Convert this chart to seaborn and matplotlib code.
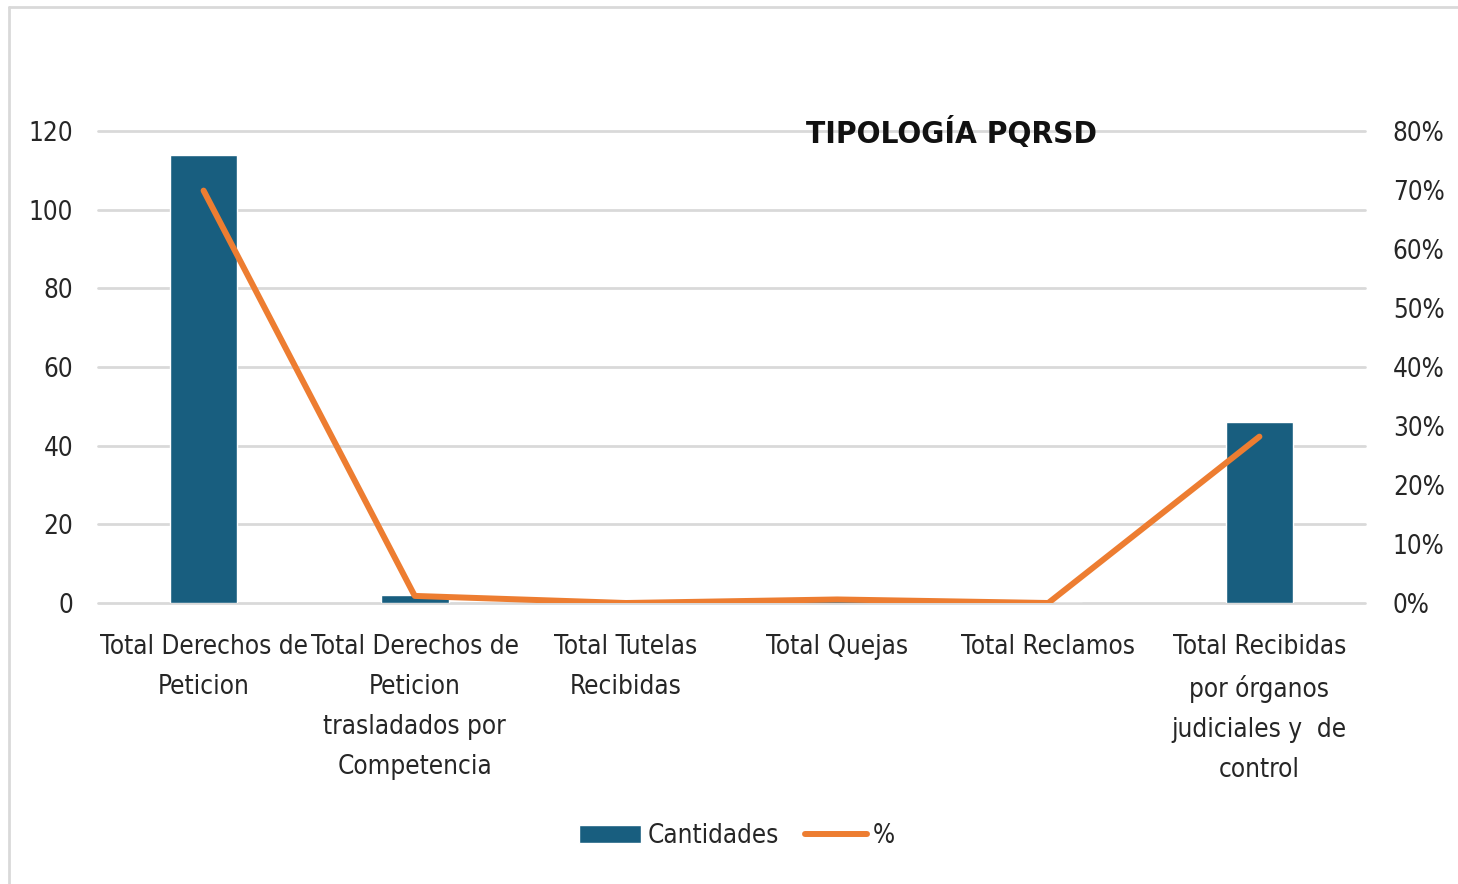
import matplotlib
matplotlib.use("Agg")
import matplotlib.pyplot as plt
import matplotlib.font_manager as fm
from matplotlib.ticker import FuncFormatter
import seaborn as sns
import pandas as pd

categorias = [
    "Total Derechos de\nPeticion",
    "Total Derechos de\nPeticion\ntrasladados por\nCompetencia",
    "Total Tutelas\nRecibidas",
    "Total Quejas",
    "Total Reclamos",
    "Total Recibidas\npor órganos\njudiciales y  de\ncontrol",
]
cantidades = [114, 2, 0, 1, 0, 46]
porcentajes = [0.699, 0.012, 0.0, 0.006, 0.0, 0.282]

azul = "#185E7F"
naranja = "#ED7D31"

sns.set_style("white")
nombres = {f.name for f in fm.fontManager.ttflist}
fuente = "Liberation Sans Narrow" if "Liberation Sans Narrow" in nombres else "DejaVu Sans"
plt.rcParams["font.family"] = [fuente, "DejaVu Sans"]
plt.rcParams["font.stretch"] = "condensed"

df = pd.DataFrame({"cat": categorias, "cant": cantidades, "pct": porcentajes})

fig = plt.figure(figsize=(14.58, 8.84), dpi=100)
ax = fig.add_axes([98 / 1458, 1 - 603 / 884, (1365 - 98) / 1458, (603 - 131) / 884])

sns.barplot(data=df, x="cat", y="cant", color=azul, width=0.32, saturation=1,
            ax=ax, label="Cantidades", zorder=2, legend=False)
ax2 = ax.twinx()
sns.lineplot(data=df, x="cat", y="pct", color=naranja, linewidth=4.3, sort=False,
             ax=ax2, label="%", solid_capstyle="round", solid_joinstyle="round")

ax.set_ylim(0, 120)
ax.set_yticks(range(0, 121, 20))
ax2.set_ylim(0, 0.8)
ax2.set_yticks([i / 10 for i in range(9)])
ax2.yaxis.set_major_formatter(FuncFormatter(lambda v, p: f"{v:.0%}"))
ax.set_xlim(-0.5, 5.5)

ax.grid(axis="y", color="#D9D9D9", linewidth=2, zorder=0)
ax.set_axisbelow(True)
for gl in ax.get_ygridlines():
    gl.set_clip_on(False)
for a in (ax, ax2):
    for s in a.spines.values():
        s.set_visible(False)
    a.set_xlabel("")
    a.set_ylabel("")
    a.tick_params(length=0, labelsize=18.7, labelcolor="#262626")
ax.tick_params(axis="y", pad=18)
ax2.tick_params(axis="y", pad=20)
ax.tick_params(axis="x", pad=22)
for t in ax.get_xticklabels():
    t.set_linespacing(1.7)
    t.set_verticalalignment("top")

if ax.get_legend() is not None:
    ax.get_legend().remove()
ax2.get_legend().remove()
h1, l1 = ax.get_legend_handles_labels()
h2, l2 = ax2.get_legend_handles_labels()
fig.legend(h1 + h2, l1 + l2, loc="center", bbox_to_anchor=(737 / 1458, 1 - 836 / 884),
           ncol=2, frameon=False, fontsize=18.6, handlelength=2.4, handletextpad=0.25,
           columnspacing=1.0, labelcolor="#262626")

fig.text(951 / 1458, 1 - 133 / 884, "TIPOLOGÍA PQRSD", ha="center", va="center",
         fontsize=22.6, fontweight="bold", color="#111111")

# borde del recuadro del gráfico
fig.add_artist(plt.Line2D([9 / 1458, 9 / 1458], [0, 1 - 7 / 884], color="#D9D9D9", lw=2))
fig.add_artist(plt.Line2D([9 / 1458, 1], [1 - 7 / 884, 1 - 7 / 884], color="#D9D9D9", lw=2))

fig.savefig("out.png", dpi=100, facecolor="white")
